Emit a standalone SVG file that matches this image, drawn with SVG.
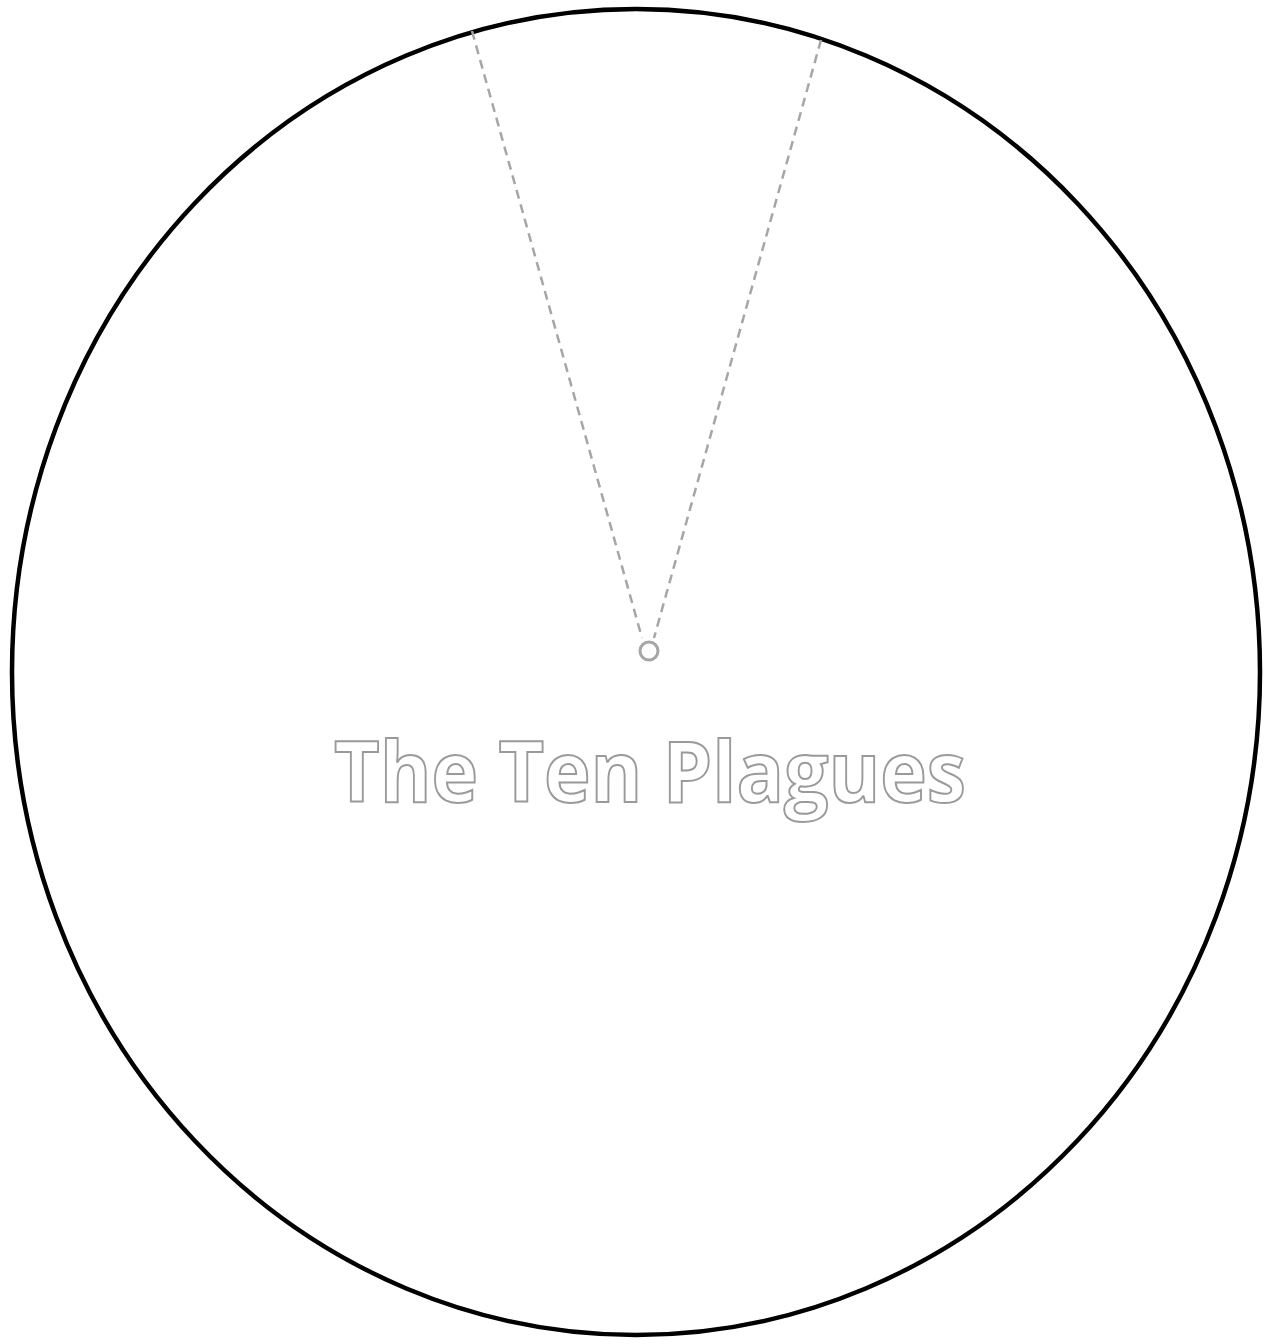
<svg xmlns="http://www.w3.org/2000/svg" width="1269" height="1344" viewBox="0 0 1269 1344">
<style>
.rim{fill:#fff;stroke:#000;stroke-width:4.5}
.guide{stroke:#a6a6a6;stroke-width:2.5;stroke-dasharray:9,6;fill:none}
.pivot{fill:none;stroke:#a6a6a6;stroke-width:3}
.title{font-family:"Open Sans","Noto Sans",sans-serif;font-weight:700;font-size:84px;fill:#fff;stroke:#9a9a9a;stroke-width:2}
</style>
<rect width="1269" height="1344" fill="#fff"/>
<g id="wheel"><ellipse class="rim" cx="636" cy="672" rx="624" ry="663"/></g>
<g id="connectors">
<line class="guide" x1="472" y1="31" x2="642" y2="638"/>
<line class="guide" x1="821" y1="40" x2="654" y2="638"/>
</g>
<g id="pivot"><circle class="pivot" cx="649" cy="651" r="9"/></g>
<g id="title"><text class="title" x="650" y="802" text-anchor="middle" textLength="632" lengthAdjust="spacingAndGlyphs">The Ten Plagues</text></g>
</svg>
